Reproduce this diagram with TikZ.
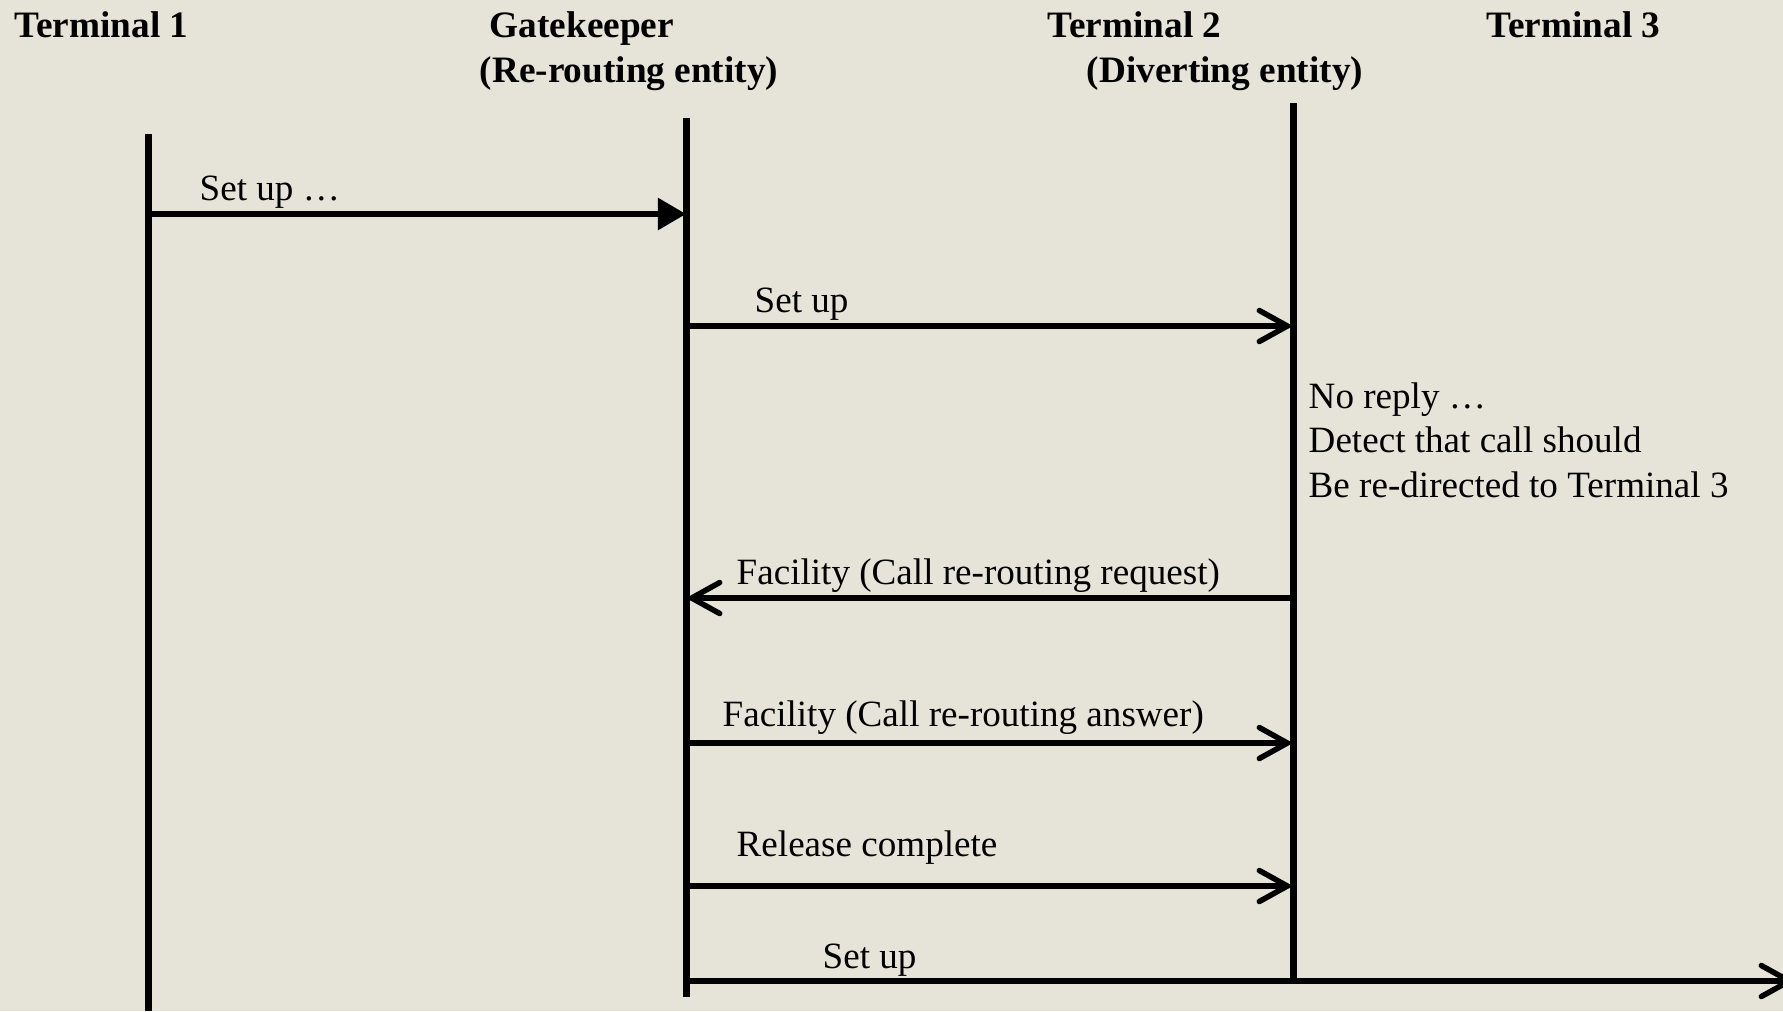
\documentclass[tikz,border=0pt]{standalone}
\usepackage{fontspec}
\setmainfont{Liberation Serif}
\usetikzlibrary{arrows.meta}
\definecolor{paper}{RGB}{230,228,216}

\begin{document}
\begin{tikzpicture}[x=0.01cm, y=-0.01cm,
		every node/.style = {inner sep = 0pt, font = \fontsize{10.55pt}{12.6pt}\selectfont},
		head/.style = {anchor = west, font = \fontsize{10.6pt}{12.6pt}\selectfont\bfseries},
		lifeline/.style = {line width = 0.07cm},
		msg/.style = {line width = 0.055cm, -{Straight Barb[length = 0.28cm, width = 0.31cm, line cap = round]}},
		firstmsg/.style = {line width = 0.055cm, -{Triangle[length = 0.28cm, width = 0.31cm]}},
		lbl/.style = {anchor = west}]
	\fill[paper] (0, 0) rectangle (1783, 1011);
	\useasboundingbox (0, 0) rectangle (1783, 1011);
	% headers
	\node[head] (t1name) at (14, 25) {Terminal 1};
	\node[head] (gkname) at (489, 29) {Gatekeeper};
	\node[head] (gkrole) at (479, 74) {(Re-routing entity)};
	\node[head] (t2name) at (1047, 25) {Terminal 2};
	\node[head] (t2role) at (1086, 74) {(Diverting entity)};
	\node[head] (t3name) at (1486, 25) {Terminal 3};
	% life lines
	\coordinate (t1top) at (148, 134);
	\coordinate (t1bot) at (148, 1011);
	\coordinate (gktop) at (686, 118);
	\coordinate (gkbot) at (686, 997);
	\coordinate (t2top) at (1293, 103);
	\coordinate (t2bot) at (1293, 981);
	\coordinate (t3end) at (1795, 981);
	\foreach \l in {t1, gk, t2}
		\draw[lifeline] (\l top) -- (\l bot);
	% messages
	\draw[firstmsg] (t1top |- 0, 214) -- (gktop |- 0, 214);
	\node[lbl] (m1) at (199, 192) {Set up \dots};
	\draw[msg] (gktop |- 0, 326) -- (t2top |- 0, 326);
	\node[lbl] (m2) at (754, 304) {Set up};
	\node[anchor = west, align = left] (note) at (1308, 440) {No reply \dots\\Detect that call should\\Be re-directed to Terminal 3};
	\draw[msg] (t2top |- 0, 598) -- (gktop |- 0, 598);
	\node[lbl] (m3) at (736, 576) {Facility (Call re-routing request)};
	\draw[msg] (gktop |- 0, 743) -- (t2top |- 0, 743);
	\node[lbl] (m4) at (722, 718) {Facility (Call re-routing answer)};
	\draw[msg] (gktop |- 0, 886) -- (t2top |- 0, 886);
	\node[lbl] (m5) at (736, 848) {Release complete};
	\draw[msg] (gktop |- t2bot) -- (t3end);
	\node[lbl] (m6) at (822, 960) {Set up};
\end{tikzpicture}
\end{document}
